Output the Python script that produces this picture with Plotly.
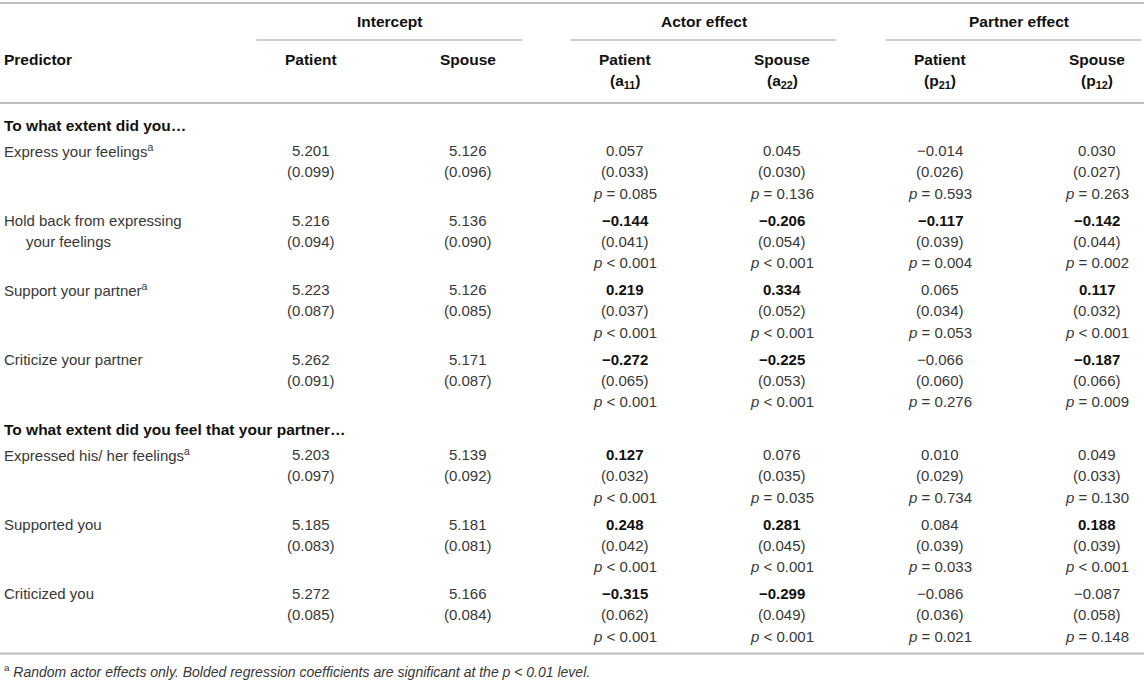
import plotly.graph_objects as go

# ---------------- data ----------------
sections = ["To what extent did you…", "To what extent did you feel that your partner…"]
row_section = [0, 0, 0, 0, 1, 1, 1]
predictors = [
    ["Express your feelings<sup>a</sup>"],
    ["Hold back from expressing", "your feelings"],
    ["Support your partner<sup>a</sup>"],
    ["Criticize your partner"],
    ["Expressed his/ her feelings<sup>a</sup>"],
    ["Supported you"],
    ["Criticized you"],
]

group_labels = ["Intercept", "Actor effect", "Partner effect"]
column_labels = [
    ["Patient"], ["Spouse"],
    ["Patient", "(a<sub>11</sub>)"], ["Spouse", "(a<sub>22</sub>)"],
    ["Patient", "(p<sub>21</sub>)"], ["Spouse", "(p<sub>12</sub>)"],
]

intercept_patient = [5.201, 5.216, 5.223, 5.262, 5.203, 5.185, 5.272]
intercept_patient_se = [0.099, 0.094, 0.087, 0.091, 0.097, 0.083, 0.085]
intercept_spouse = [5.126, 5.136, 5.126, 5.171, 5.139, 5.181, 5.166]
intercept_spouse_se = [0.096, 0.090, 0.085, 0.087, 0.092, 0.081, 0.084]

actor_patient = [0.057, -0.144, 0.219, -0.272, 0.127, 0.248, -0.315]
actor_patient_se = [0.033, 0.041, 0.037, 0.065, 0.032, 0.042, 0.062]
actor_patient_p = ["= 0.085", "< 0.001", "< 0.001", "< 0.001", "< 0.001", "< 0.001", "< 0.001"]

actor_spouse = [0.045, -0.206, 0.334, -0.225, 0.076, 0.281, -0.299]
actor_spouse_se = [0.030, 0.054, 0.052, 0.053, 0.035, 0.045, 0.049]
actor_spouse_p = ["= 0.136", "< 0.001", "< 0.001", "< 0.001", "= 0.035", "< 0.001", "< 0.001"]

partner_patient = [-0.014, -0.117, 0.065, -0.066, 0.010, 0.084, -0.086]
partner_patient_se = [0.026, 0.039, 0.034, 0.060, 0.029, 0.039, 0.036]
partner_patient_p = ["= 0.593", "= 0.004", "= 0.053", "= 0.276", "= 0.734", "= 0.033", "= 0.021"]

partner_spouse = [0.030, -0.142, 0.117, -0.187, 0.049, 0.188, -0.087]
partner_spouse_se = [0.027, 0.044, 0.032, 0.066, 0.033, 0.039, 0.058]
partner_spouse_p = ["= 0.263", "= 0.002", "< 0.001", "= 0.009", "= 0.130", "< 0.001", "= 0.148"]

footnote = ("<sup>a</sup> <i>Random actor effects only. Bolded regression coefficients "
            "are significant at the p &lt; 0.01 level.</i>")

# ---------------- layout constants ----------------
W, H = 1144, 684
FONT = "Liberation Sans, Arial, Helvetica, sans-serif"
REG = "#383838"
BLK = "#111111"
LINE = "#bdbdbd"
FS = 15
FS_BOLD = 15.5
FS_FOOT = 14
LEFT_X = 3
INDENT = 22
COL_X = [311, 468, 625, 782, 940, 1097]
GROUP_HALF = 133
RIGHT_EDGE = 1141
Y_ADJ = -1.5

TOP_LINE_Y = 3
GROUP_Y = 23
GROUP_LINE_Y = 40
SUB_Y = 61
LINE_STEP = 21.3
HEAD_LINE_Y = 103
SECTION_START = 127
SECTION_TO_ROW = 25
ROW_PITCH = 69.5
FOOT_GAP = 16
FOOTNOTE_GAP = 19


def fmt(v):
    s = f"{abs(v):.3f}"
    return ("−" + s) if v < 0 else s


def significant(pstr):
    op, val = pstr.split()
    return op == "<" or float(val) < 0.01


# compute row positions
row_y = []
section_y = []
y = SECTION_START
prev_sec = None
for i, sec in enumerate(row_section):
    if sec != prev_sec:
        if prev_sec is not None:
            y = row_y[-1] + ROW_PITCH + 1
        section_y.append(y)
        y = y + SECTION_TO_ROW
        prev_sec = sec
    else:
        y = row_y[-1] + ROW_PITCH
    row_y.append(y)

last_line_y = row_y[-1] + 2 * LINE_STEP
foot_line_y = last_line_y + FOOT_GAP
footnote_y = foot_line_y + FOOTNOTE_GAP

annotations = []


def add_text(xs, ys, texts, color, size=FS, anchor="center", bold=False):
    for x, y, t in zip(xs, ys, texts):
        annotations.append(dict(
            x=x, y=y + Y_ADJ, xref="x", yref="y", text=t, showarrow=False,
            xanchor=anchor, yanchor="middle", align=anchor,
            borderpad=0,
            font=dict(family=FONT, size=size, color=color,
                      weight="bold" if bold else "normal")))


# intercept columns (2 lines)
for ci, (vals, ses) in enumerate([(intercept_patient, intercept_patient_se),
                                   (intercept_spouse, intercept_spouse_se)]):
    xs, ys, ts = [], [], []
    for r in range(len(vals)):
        xs += [COL_X[ci]] * 2
        ys += [row_y[r], row_y[r] + LINE_STEP]
        ts += [fmt(vals[r]), f"({ses[r]:.3f})"]
    add_text(xs, ys, ts, REG)

# effect columns (3 lines)
effect_cols = [
    (actor_patient, actor_patient_se, actor_patient_p),
    (actor_spouse, actor_spouse_se, actor_spouse_p),
    (partner_patient, partner_patient_se, partner_patient_p),
    (partner_spouse, partner_spouse_se, partner_spouse_p),
]
for k, (vals, ses, ps) in enumerate(effect_cols):
    cx = COL_X[2 + k]
    bx, by, bt = [], [], []
    xs, ys, ts = [], [], []
    for r in range(len(vals)):
        if significant(ps[r]):
            bx.append(cx); by.append(row_y[r]); bt.append(fmt(vals[r]))
        else:
            xs.append(cx); ys.append(row_y[r]); ts.append(fmt(vals[r]))
        op, val = ps[r].split()
        op_html = "&lt;" if op == "<" else "="
        xs += [cx, cx]
        ys += [row_y[r] + LINE_STEP, row_y[r] + 2 * LINE_STEP]
        ts += [f"({ses[r]:.3f})", f"<i>p</i> {op_html} {val}"]
    add_text(xs, ys, ts, REG)
    add_text(bx, by, bt, BLK, bold=True)

# predictor column
px, py, pt = [], [], []
for r, lines in enumerate(predictors):
    for j, ln in enumerate(lines):
        px.append(LEFT_X + (INDENT if j > 0 else 0))
        py.append(row_y[r] + j * LINE_STEP)
        pt.append(ln)
add_text(px, py, pt, REG, anchor="left")

# section headers
add_text([LEFT_X] * len(sections), section_y, sections, BLK, size=FS_BOLD,
         anchor="left", bold=True)

# header texts
add_text([LEFT_X], [SUB_Y], ["Predictor"], BLK, size=FS_BOLD, anchor="left", bold=True)
gx = [(COL_X[2 * g] + COL_X[2 * g + 1]) / 2 for g in range(3)]
add_text(gx, [GROUP_Y] * 3, group_labels, BLK, size=FS_BOLD, bold=True)
hx, hy, ht = [], [], []
for ci, lines in enumerate(column_labels):
    for j, ln in enumerate(lines):
        hx.append(COL_X[ci]); hy.append(SUB_Y + j * (LINE_STEP + 1)); ht.append(ln)
add_text(hx, hy, ht, BLK, size=FS_BOLD, bold=True)

# footnote
add_text([LEFT_X], [footnote_y], [footnote], REG, size=FS_FOOT, anchor="left")

# rules
shapes = []
for yy, w in [(TOP_LINE_Y, 2), (HEAD_LINE_Y, 2), (foot_line_y, 2)]:
    shapes.append(dict(type="line", xref="x", yref="y", x0=0, x1=W, y0=yy, y1=yy,
                       line=dict(color=LINE, width=w)))
for g in gx:
    shapes.append(dict(type="line", xref="x", yref="y", x0=g - GROUP_HALF,
                       x1=min(g + GROUP_HALF, RIGHT_EDGE), y0=GROUP_LINE_Y, y1=GROUP_LINE_Y,
                       line=dict(color=LINE, width=1.3)))

fig = go.Figure()
fig.update_layout(
    width=W, height=H, margin=dict(l=0, r=0, t=0, b=0),
    paper_bgcolor="white", plot_bgcolor="white",
    xaxis=dict(range=[0, W], visible=False, fixedrange=True),
    yaxis=dict(range=[H, 0], visible=False, fixedrange=True),
    shapes=shapes, annotations=annotations, showlegend=False,
)

fig.write_html(
    "out.html",
    config={"displayModeBar": False},
    post_script="document.body.style.margin='0px';document.body.style.overflow='hidden';",
)
